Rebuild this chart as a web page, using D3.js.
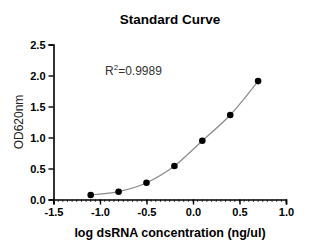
<!DOCTYPE html>
<html>
<head>
<meta charset="utf-8">
<script src="https://cdn.jsdelivr.net/npm/d3@7"></script>
<style>
  body { margin: 0; background: #fff; }
  text { font-family: "Liberation Sans", Arial, sans-serif; }
</style>
</head>
<body>
<svg id="chart" width="322" height="252"></svg>
<script>
// standard curve points
let logConc = [-1.1, -0.8, -0.5, -0.2, 0.1, 0.4, 0.7];
let od620 = [0.073, 0.126, 0.27, 0.54, 0.948, 1.363, 1.91];
let xTicks = [-1.5, -1.0, -0.5, 0.0, 0.5, 1.0];
let yTicks = [0.0, 0.5, 1.0, 1.5, 2.0, 2.5];
let rSquared = "0.9989";

let svg = d3.select("#chart");
let x = d3.scaleLinear().domain([-1.5, 1.0]).range([53.5, 286]);
let y = d3.scaleLinear().domain([0, 2.5]).range([199.5, 44.5]);
let fmt = d => d.toFixed(1);

// minor ticks on x
let minor = d3.range(-1.5, 1.0001, 0.05);
svg.append("g").selectAll("line").data(minor).join("line")
	.attr("x1", d => x(d)).attr("x2", d => x(d))
	.attr("y1", y(0)).attr("y2", y(0) + 2.5)
	.attr("stroke", "#000").attr("stroke-width", 0.7);

let xAxis = svg.append("g")
	.attr("transform", "translate(0," + y(0) + ")")
	.call(d3.axisBottom(x).tickValues(xTicks).tickFormat(fmt).tickSize(5).tickPadding(4));
let yAxis = svg.append("g")
	.attr("transform", "translate(" + x(-1.5) + ",0)")
	.call(d3.axisLeft(y).tickValues(yTicks).tickFormat(fmt).tickSize(5).tickPadding(3));

[xAxis, yAxis].forEach(a => {
	a.select(".domain").attr("stroke-width", 1.6).attr("stroke", "#000");
	a.selectAll(".tick line").attr("stroke-width", 1.4).attr("stroke", "#000");
	a.selectAll(".tick text").attr("font-size", 11).attr("font-weight", "bold").attr("fill", "#000")
		.style("font-family", "'Liberation Sans', Arial, sans-serif");
});

let pts = logConc.map((d, i) => [d, od620[i]]);

let line = d3.line().x(d => x(d[0])).y(d => y(d[1])).curve(d3.curveMonotoneX);
svg.append("path").datum(pts)
	.attr("d", line)
	.attr("fill", "none").attr("stroke", "#8a8a8a").attr("stroke-width", 1.2);

svg.append("g").selectAll("circle").data(pts).join("circle")
	.attr("cx", d => x(d[0])).attr("cy", d => y(d[1]))
	.attr("r", 3.3).attr("fill", "#000");

svg.append("text").attr("x", 170).attr("y", 24).attr("text-anchor", "middle")
	.attr("font-size", 13.5).attr("font-weight", "bold").text("Standard Curve");

svg.append("text").attr("x", 170).attr("y", 237).attr("text-anchor", "middle")
	.attr("font-size", 12.5).attr("font-weight", "bold").text("log dsRNA concentration (ng/ul)");

svg.append("text").attr("transform", "translate(23,122) rotate(-90)").attr("text-anchor", "middle")
	.attr("font-size", 12).attr("fill", "#222").text("OD620nm");

let r2 = svg.append("text").attr("x", 105).attr("y", 75).attr("font-size", 12).attr("fill", "#333");
r2.append("tspan").text("R");
r2.append("tspan").attr("dy", -5).attr("font-size", 8).text("2");
r2.append("tspan").attr("dy", 5).text("=" + rSquared);
</script>
</body>
</html>
